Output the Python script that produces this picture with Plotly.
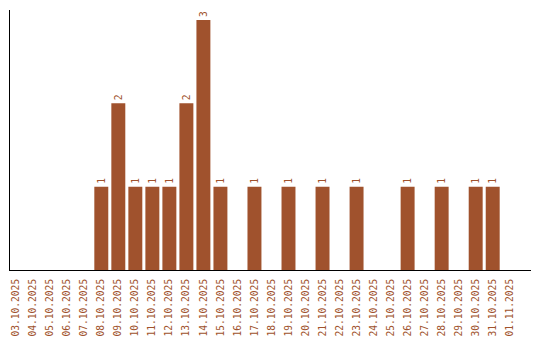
import plotly.graph_objects as go

dates = ["03.10.2025", "04.10.2025", "05.10.2025", "06.10.2025", "07.10.2025",
         "08.10.2025", "09.10.2025", "10.10.2025", "11.10.2025", "12.10.2025",
         "13.10.2025", "14.10.2025", "15.10.2025", "16.10.2025", "17.10.2025",
         "18.10.2025", "19.10.2025", "20.10.2025", "21.10.2025", "22.10.2025",
         "23.10.2025", "24.10.2025", "25.10.2025", "26.10.2025", "27.10.2025",
         "28.10.2025", "29.10.2025", "30.10.2025", "31.10.2025", "01.11.2025"]
counts = [0, 0, 0, 0, 0,
          1, 2, 1, 1, 1,
          2, 3, 1, 0, 1,
          0, 1, 0, 1, 0,
          1, 0, 0, 1, 0,
          1, 0, 1, 1, 0]

color = "#A0522D"
font_family = "DejaVu Sans Mono, monospace"

labels = [str(v) if v > 0 else "" for v in counts]

fig = go.Figure(go.Bar(
    x=dates, y=counts, marker=dict(color=color, line=dict(width=0)),
    width=0.82,
    text=labels, textposition="outside", textangle=-90,
    textfont=dict(family=font_family, size=9.6, color=color),
    cliponaxis=False,
))

fig.update_layout(
    width=540, height=340,
    margin=dict(l=10, r=9, t=10, b=70, autoexpand=False),
    paper_bgcolor="white", plot_bgcolor="white",
    showlegend=False,
    bargap=0.18,
)
fig.update_xaxes(
    type="category", range=[-0.365, 30.25],
    showline=True, linecolor="black", linewidth=1,
    showgrid=False, ticks="", tickangle=-90,
    tickfont=dict(family=font_family, size=9.6, color=color),
    ticklabelstandoff=4, automargin=False,
    zeroline=False,
)
fig.update_yaxes(
    range=[0, 3.12], showline=True, linecolor="black", linewidth=1,
    showgrid=False, showticklabels=False, ticks="", zeroline=False,
    automargin=False,
)

fig.write_html("out.html")
